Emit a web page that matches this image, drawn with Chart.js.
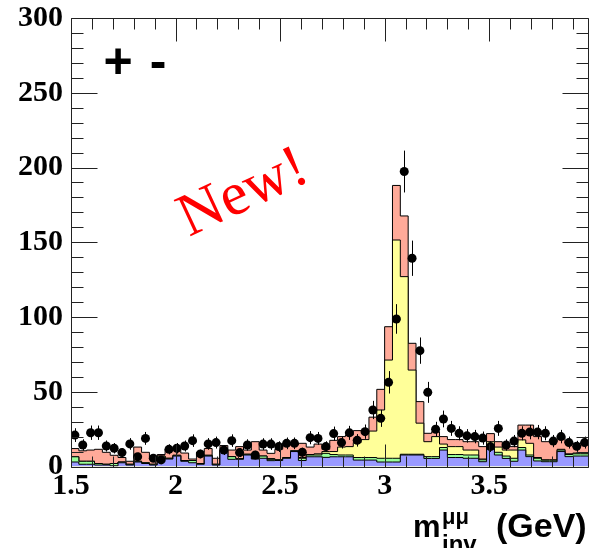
<!DOCTYPE html>
<html>
<head>
<meta charset="utf-8">
<script src="https://cdn.jsdelivr.net/npm/chart.js@4.4.1/dist/chart.umd.min.js"></script>
<style>
  html, body { margin: 0; padding: 0; background: #fff; }
  #wrap { position: relative; width: 593px; height: 548px; }
</style>
</head>
<body>
<div id="wrap"><canvas id="chart" width="593" height="548"></canvas></div>
<script>
// binning of the histograms (GeV)
const binLow = 1.5;
const binWidth = 0.0375;

// stacked components, one value per bin (own contribution, bottom to top)
const blueBkg = [3.5,3,1.5,1.5,1,1,0.5,2.5,1,3, 2,1,5.5,5,7,3.5,2.5,1.5,7,1,
  10.5,4.8,4.8,7.7,5,5.5,3.9,4,5.5,10, 4,6.5,6.5,6.1,6.5,6.5,6.5,4.3,4.3,4.3,
  3,3,3,7.7,7.7,7.7,5.4,5.4,11,6, 6,5.5,5.5,3.2,11.7,7.7,5.4,3.5,11,6.6,
  3.7,3.2,3.2,10,6.6,7];
const greenBkg = [4.5,3.5,2,2,1,0.5,1.5,0.5,0.5,0.5, 0.5,0.5,1.5,0.5,0.5,0.5,1.5,0.5,0.5,0.5,
  0.5,1.8,0.5,0.5,0.5,1.5,0.9,0.5,0.5,0.5, 1.5,1.2,1.2,2.7,1.5,1.2,1.2,1.7,1.7,1.7,
  2.5,2.5,2.5,0.5,0.5,0.5,1.2,1.2,1.7,2, 2,2.2,2.2,1.3,2.7,1.8,1.6,2,1.7,1.1,
  1.8,1,1,1,1.4,1.5];
const yellowSig = [0,0,0,0,0,0,0,0,0,0, 0,0,0,0,0,0,0,0,0,0,
  0,0,0,0,0,0,0.5,0,0,0, 0.5,0.3,0.8,1.2,2,5.3,5.6,10,12,17.7,
  32.3,65.7,146,118.8,56.3,20.8,10,13.4,2.3,5.3, 5.3,3.3,3.3,0.5,2.2,3.5,4,5.5,5.1,7.8,
  0.5,0.3,0.3,0.5,0.5,0.5];
const salmonBkg = [8.5,5.5,7,7.5,9.5,8,5.5,3,2,9.5, 7,3.5,1,6,4.5,5,1,7.5,4.5,4,
  3,4.4,8,2.8,11.1,4,3.5,7,9.5,3.9, 9.5,5,6.5,1.5,7.5,7,7.7,8,6,9.3,
  13.8,22.3,36.5,40.6,17.9,14.4,5.6,3.3,5,4.7, 4.7,5.6,5.6,8.3,5.4,3.6,2.3,2.3,9.9,12.2,
  14,12.1,12.1,8.5,7,6.5];

// measured counts and their errors
const dataCounts = [21,14.4,22.6,22.6,13.7,12.2,9.3,15.1,6.6,18.8, 5.5,4.4,11.5,12.2,13.7,17.3,8.4,15.1,16,11,
  17.3,9.3,14.4,7.7,15,15,13.3,15.5,15.5,9.5, 19.3,18.8,13.3,22,16,22.5,17.5,23.3,37.8,32.2,
  56.3,98.7,197.3,139.3,77.5,49.6,24.9,31.8,25.5,22.2, 20.5,20,19,13.3,25.5,14.4,17,22.2,23,23,
  22.2,17,20,16,13.5,16];
const dataErrors = [4.6,3.8,4.8,4.8,3.7,3.5,3.0,3.9,2.6,4.3, 2.3,2.1,3.4,3.5,3.7,4.2,2.9,3.9,4.0,3.3,
  4.2,3.0,3.8,2.8,3.9,3.9,3.6,3.9,3.9,3.1, 4.4,4.3,3.6,4.7,4.0,4.7,4.2,4.8,6.1,5.7,
  7.5,9.9,14.0,11.8,8.8,7.0,5.0,5.6,5.0,4.7, 4.5,4.5,4.4,3.6,5.0,3.8,4.1,4.7,4.8,4.8,
  4.7,4.1,4.5,4.0,3.7,4.0];

// axes and labels
const xMin = 1.5, xMax = 3.975, xStep = 0.5, xMinor = 0.1;
const yMin = 0, yMax = 300, yStep = 50, yMinor = 10;
const chargeLabel = ['+', '-'];
const stampLabel = 'New!';
const axisMain = 'm', axisSup = 'μμ', axisSub = 'inv', axisUnit = '(GeV)';

const colors = { blue: '#9999ff', green: '#99ff99', yellow: '#ffff99', salmon: '#ffaa99' };

// histogram outline: points on the low edges, plus the last upper edge
function histPoints(values) {
  const pts = values.map((v, i) => ({ x: binLow + i * binWidth, y: v }));
  pts.push({ x: binLow + values.length * binWidth, y: values[values.length - 1] });
  return pts;
}

function histDataset(values, color) {
  return {
    data: histPoints(values),
    stepped: 'after',
    fill: 'origin',
    backgroundColor: color,
    borderColor: '#000',
    borderWidth: 1,
    pointRadius: 0,
    stack: 'mc'
  };
}

// error bars for the data points
const errorBars = {
  id: 'errorBars',
  beforeDatasetDraw(chart, args) {
    if (args.index !== 0) return;
    const { ctx, scales: { x, y } } = chart;
    ctx.save();
    ctx.strokeStyle = '#000';
    ctx.lineWidth = 1;
    ctx.beginPath();
    dataCounts.forEach((v, i) => {
      const xc = Math.round(x.getPixelForValue(binLow + (i + 0.5) * binWidth)) + 0.5;
      const x0 = x.getPixelForValue(binLow + i * binWidth);
      const x1 = x.getPixelForValue(binLow + (i + 1) * binWidth);
      const yc = Math.round(y.getPixelForValue(v)) + 0.5;
      ctx.moveTo(xc, y.getPixelForValue(v - dataErrors[i]));
      ctx.lineTo(xc, y.getPixelForValue(v + dataErrors[i]));
      ctx.moveTo(x0, yc);
      ctx.lineTo(x1, yc);
    });
    ctx.stroke();
    ctx.restore();
  }
};

// ROOT-like frame with inward ticks, and the free texts
const frameAndText = {
  id: 'frameAndText',
  afterDraw(chart) {
    const { ctx, chartArea: a, scales: { x, y } } = chart;
    ctx.save();
    ctx.strokeStyle = '#222';
    ctx.lineWidth = 1;
    ctx.beginPath();
    const L = Math.round(a.left) + 0.5, R = Math.round(a.right) - 0.5;
    const T = Math.round(a.top) + 0.5, B = Math.round(a.bottom) + 0.5;
    for (let k = 0; k * yMinor <= yMax; k++) {
      const v = k * yMinor;
      const py = Math.round(y.getPixelForValue(v)) + 0.5;
      const len = v % yStep === 0 ? 26 : 12;
      ctx.moveTo(L, py); ctx.lineTo(L + len, py);
      ctx.moveTo(R, py); ctx.lineTo(R - len, py);
    }
    for (let k = 0; xMin + k * xMinor <= xMax + 1e-9; k++) {
      const px = Math.round(x.getPixelForValue(xMin + k * xMinor)) + 0.5;
      const len = k % 5 === 0 ? 23 : 11;
      ctx.moveTo(px, T); ctx.lineTo(px, T + len);
      ctx.moveTo(px, B); ctx.lineTo(px, B - len);
    }
    ctx.rect(L, T, R - L, B - T);
    ctx.stroke();

    // "+ -"
    ctx.fillStyle = '#000';
    ctx.font = 'bold 50px "Liberation Sans", Arial, sans-serif';
    ctx.textAlign = 'center';
    ctx.textBaseline = 'alphabetic';
    ctx.fillText(chargeLabel[0], 118, 78);
    ctx.fillText(chargeLabel[1], 158, 78);

    // "New!"
    ctx.save();
    ctx.translate(189, 237);
    ctx.rotate(-25 * Math.PI / 180);
    ctx.fillStyle = '#ff0000';
    ctx.font = '61px "Liberation Serif", "Times New Roman", serif';
    ctx.textAlign = 'left';
    ctx.fillText(stampLabel, 0, 0);
    ctx.restore();

    // axis title
    ctx.fillStyle = '#000';
    ctx.textAlign = 'left';
    ctx.font = 'bold 31px "Liberation Sans", Arial, sans-serif';
    ctx.fillText(axisMain, 413, 537);
    ctx.font = 'bold 34px "Liberation Sans", Arial, sans-serif';
    ctx.fillText(axisUnit, 496, 537);
    ctx.font = 'bold 22px "Liberation Sans", Arial, sans-serif';
    ctx.fillText(axisSup, 442, 524);
    ctx.font = 'bold 24px "Liberation Sans", Arial, sans-serif';
    ctx.fillText(axisSub, 442, 552);
    ctx.restore();
  }
};

const tickFont = { family: '"Liberation Serif", "Times New Roman", serif', weight: 'bold', size: 30 };

new Chart(document.getElementById('chart'), {
  type: 'line',
  data: {
    datasets: [
      {
        data: dataCounts.map((v, i) => ({ x: binLow + (i + 0.5) * binWidth, y: v })),
        showLine: false,
        pointRadius: 4.5,
        pointBackgroundColor: '#000',
        pointBorderWidth: 0,
        stack: 'observed'
      },
      histDataset(blueBkg, colors.blue),
      histDataset(greenBkg, colors.green),
      histDataset(yellowSig, colors.yellow),
      histDataset(salmonBkg, colors.salmon)
    ]
  },
  options: {
    responsive: false,
    animation: false,
    events: [],
    layout: { padding: { top: 18, right: 1.5, left: 0, bottom: 0 } },
    plugins: { legend: { display: false }, tooltip: { enabled: false } },
    elements: { line: { tension: 0 } },
    scales: {
      x: {
        type: 'linear',
        min: xMin,
        max: xMax,
        grid: { display: false, drawTicks: false },
        border: { display: false },
        ticks: {
          stepSize: xStep,
          includeBounds: false,
          maxRotation: 0,
          autoSkip: false,
          padding: 2,
          color: '#000',
          font: tickFont,
          callback: v => String(v)
        },
        afterFit(scale) {
          scale.height = 81.5;
          scale.paddingLeft = 0;
          scale.paddingRight = 0;
        }
      },
      y: {
        stacked: true,
        min: yMin,
        max: yMax,
        grid: { display: false, drawTicks: false },
        border: { display: false },
        ticks: { stepSize: yStep, padding: 8, color: '#000', font: tickFont },
        afterFit(scale) {
          scale.width = 71;
          scale.paddingTop = 0;
          scale.paddingBottom = 0;
        }
      }
    }
  },
  plugins: [errorBars, frameAndText]
});
</script>
</body>
</html>
